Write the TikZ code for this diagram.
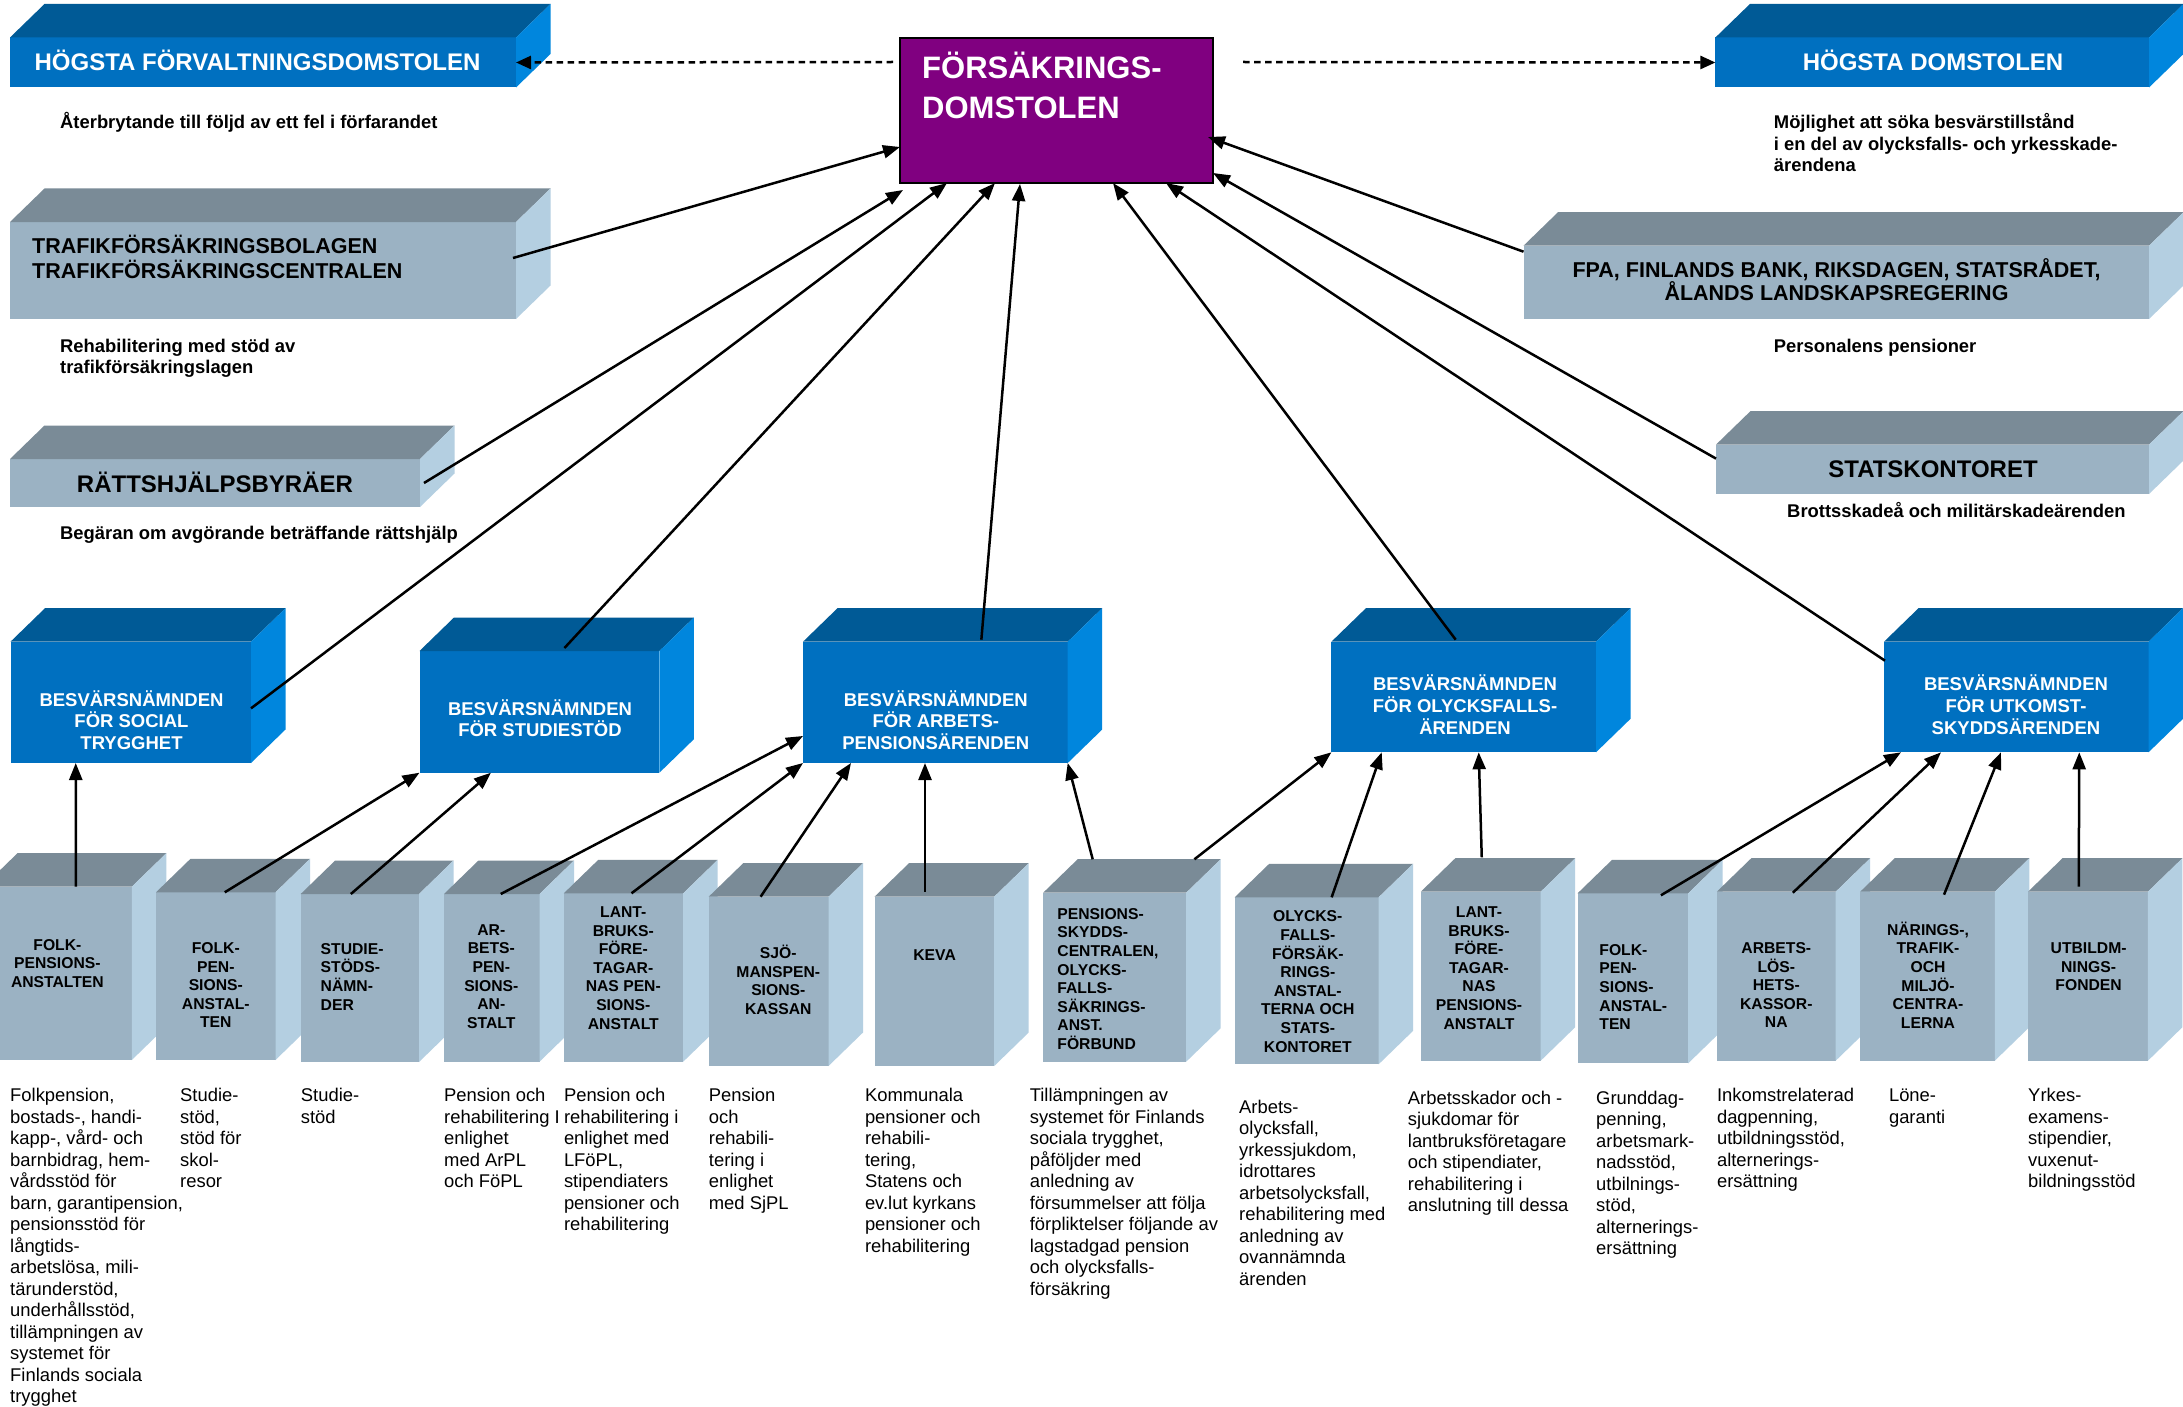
\documentclass[tikz,border=0pt]{standalone}
\usepackage{fontspec}
\setmainfont{Liberation Sans}
\usetikzlibrary{arrows.meta,calc}
\definecolor{bfront}{HTML}{0070C0}
\definecolor{btop}{HTML}{005A96}
\definecolor{bside}{HTML}{0086DD}
\definecolor{gfront}{HTML}{9BB2C3}
\definecolor{gtop}{HTML}{7A8B97}
\definecolor{gside}{HTML}{B4CFE1}
\definecolor{purp}{HTML}{800080}
\newcommand\fl{\rule{0pt}{1em}}
% #1 name, #2 x1, #3 y1, #4 x2, #5 y2, #6 palette
\newcommand\cub[6]{%
  \node[face,#6front,minimum width={(#4)-(#2)},minimum height={(#5)-(#3)}] (#1) at (#2,#3) {};
  \fill[#6top] (#1.north west) -- ++(34.5,-33.5) -- ($(#1.north east)+(34.5,-33.5)$) -- (#1.north east) -- cycle;
  \fill[#6side] (#1.north east) -- ++(34.5,-33.5) -- ($(#1.south east)+(34.5,-33.5)$) -- (#1.south east) -- cycle;
}
\begin{document}
\begin{tikzpicture}[x=1pt,y=-1pt,
  bluefront/.style={fill=bfront}, bluetop/.style={fill=btop}, blueside/.style={fill=bside},
  greyfront/.style={fill=gfront}, greytop/.style={fill=gtop}, greyside/.style={fill=gside},
  face/.style={inner sep=0pt, outer sep=0pt, anchor=north west},
  title/.style={inner sep=0pt, anchor=base, font=\fontsize{24}{28}\selectfont\bfseries},
  wtitle/.style={title, text=white},
  note/.style={inner sep=0pt, anchor=base west, font=\fontsize{18.4}{21.4}\selectfont\bfseries},
  notem/.style={inner sep=0pt, anchor=north west, align=left, font=\fontsize{18.4}{21.4}\selectfont\bfseries},
  midtxt/.style={inner sep=0pt, anchor=north, align=center, text=white, font=\fontsize{18.5}{21.6}\selectfont\bfseries},
  lowc/.style={inner sep=0pt, anchor=north, align=center, font=\fontsize{15.7}{18.6}\selectfont\bfseries},
  lowl/.style={lowc, anchor=north west, align=left},
  desc/.style={inner sep=0pt, anchor=north west, align=left, font=\fontsize{18.4}{21.5}\selectfont},
  conn/.style={draw=black, line width=2.5pt, -{Triangle[length=17pt,width=13pt]}},
  dashconn/.style={draw=black, line width=2.5pt, dash pattern=on 6.5pt off 4.5pt, -{Triangle[length=15pt,width=13pt]}},
]
\clip (0,0) rectangle (2183,1407);
\fill[white] (0,0) rectangle (2183,1407);

% ---------- top row ----------
\cub{hfd}{10}{37.5}{516}{87.5}{blue}
\cub{hd}{1715.4}{37.5}{2149}{87.5}{blue}
\cub{traf}{10}{222}{516}{319}{grey}
\cub{rat}{10}{459}{420}{507}{grey}
\cub{fpa}{1523.5}{245.7}{2149}{319}{grey}
\cub{stats}{1716}{444.6}{2149}{494}{grey}
\node[face,fill=purp,draw=black,line width=2pt,minimum width=313,minimum height=145] (court) at (900,38) {};

% ---------- middle row ----------
\cub{bsoc}{10.5}{641.7}{251}{763}{blue}
\cub{bstud}{419.5}{651}{659.4}{772.7}{blue}
\cub{barb}{803}{641.7}{1067.7}{763}{blue}
\cub{boly}{1331.4}{641.7}{1596}{752.3}{blue}
\cub{butk}{1884}{641.7}{2148.5}{752.3}{blue}

% ---------- bottom row ----------
\cub{b1}{-17}{886.7}{131.8}{1060}{grey}
\cub{b2}{156}{892.3}{275.5}{1060}{grey}
\cub{b3}{300.7}{894}{419}{1062}{grey}
\cub{b4}{444}{894}{539.5}{1061.7}{grey}
\cub{b5}{563.8}{893.3}{683.2}{1061.7}{grey}
\cub{b6}{708.7}{896.7}{828.5}{1066}{grey}
\cub{b7}{874.5}{896.7}{994.2}{1066}{grey}
\cub{b8}{1043.2}{892.7}{1186.2}{1061.7}{grey}
\cub{b9}{1234.7}{897.3}{1378.6}{1064.3}{grey}
\cub{b10}{1420.8}{891.7}{1540.7}{1060.7}{grey}
\cub{b11}{1577.6}{893.3}{1688.2}{1063.3}{grey}
\cub{b12}{1716.8}{891.7}{1835.7}{1060.7}{grey}
\cub{b13}{1860.2}{891.7}{1994.8}{1060.7}{grey}
\cub{b14}{2028}{891.7}{2147.9}{1060.7}{grey}

% ---------- connectors ----------
\coordinate (dl) at ($(court.north west)+(-7,24)$);
\coordinate (dr) at ($(court.north east)+(30,24)$);
\draw[dashconn] (dl) -- (hfd.east);
\draw[dashconn] (dr) -- (hd.west);

\draw[conn] ($(traf.north east)+(-3,36)$) -- ($(court.south west)+(0,-36)$);
\draw[conn] ($(rat.east)+(4,0)$) -- ($(court.south west)+(3,7)$);
\draw[conn] ($(bsoc.east)+(0,6)$) -- ($(court.south west)+(47,0)$);
\draw[conn] ($(bstud.north)+(25,-3)$) -- ($(court.south west)+(95,0)$);
\draw[conn] ($(barb.north)+(46,-2)$) -- ($(court.south west)+(120,1)$);
\draw[conn] ($(boly.north)+(-8,-2)$) -- ($(court.south west)+(213,0)$);
\draw[conn] ($(butk.north west)+(1,19)$) -- ($(court.south west)+(266,0)$);
\draw[conn] ($(stats.north west)+(0,14)$) -- ($(court.south east)+(0,-10)$);
\draw[conn] ($(fpa.north west)+(0,6)$) -- ($(court.south east)+(-5,-46)$);

\draw[conn] ($(b1.north)+(18.4,0)$) -- ($(bsoc.south)+(-55,0)$);
\draw[conn] ($(b2.north)+(9,0)$) -- (bstud.south west);
\draw[conn] ($(b3.north)+(-9,0)$) -- ($(bstud.south)+(-48.5,0)$);
\draw[conn] ($(b4.north)+(9,0)$) -- ($(barb.south west)+(0,-27)$);
\draw[conn] ($(b5.north)+(8,0)$) -- (barb.south west);
\draw[conn] ($(b6.north)+(-8,0)$) -- ($(barb.south west)+(48,0)$);
\draw[conn] ($(b7.north)+(-9.35,-5)$) -- ($(barb.south)+(-10.35,0)$);
\draw[conn] ($(b8.north)+(-22,-33.4)$) -- (barb.south east);
\draw[conn] ($(b8.north)+(79.7,-33.4)$) -- (boly.south west);
\draw[conn] ($(b9.north)+(25,0)$) -- ($(boly.south)+(-82,0)$);
\draw[conn] ($(b10.north)+(1,-34.4)$) -- ($(boly.south)+(15,0)$);
\draw[conn] ($(b11.north)+(28,2)$) -- ($(butk.south west)+(17,0)$);
\draw[conn] ($(b12.north)+(16.6,1)$) -- ($(butk.south west)+(57,0)$);
\draw[conn] ($(b13.north)+(16.5,3)$) -- ($(butk.south west)+(117,0)$);
\draw[conn] ($(b14.north)+(-9.2,-5)$) -- ($(butk.south)+(63,0)$);

% ---------- texts top ----------
\node[wtitle] (hfdt) at (257.5,70.7) {HÖGSTA FÖRVALTNINGSDOMSTOLEN};
\node[wtitle] (hdt) at (1933,70.7) {HÖGSTA DOMSTOLEN};
\node[inner sep=0pt, anchor=north west, align=left, text=white, font=\fontsize{31}{40}\selectfont\bfseries] (courtt) at (922,47) {\fl FÖRSÄKRINGS-\\DOMSTOLEN};
\node[note] (n1) at (60,128.6) {Återbrytande till följd av ett fel i förfarandet};
\node[inner sep=0pt, anchor=north west, align=left, font=\fontsize{21.5}{25}\selectfont\bfseries] (traft) at (32,231.5) {\fl TRAFIKFÖRSÄKRINGSBOLAGEN\\TRAFIKFÖRSÄKRINGSCENTRALEN};
\node[notem] (n2) at (60,333.6) {\fl Rehabilitering med stöd av\\trafikförsäkringslagen};
\node[title] (ratt) at (215,492) {RÄTTSHJÄLPSBYRÄER};
\node[note] (n3) at (60,539) {Begäran om avgörande beträffande rättshjälp};
\node[notem] (n4) at (1773.7,110.2) {\fl Möjlighet att söka besvärstillstånd\\i en del av olycksfalls- och yrkesskade-\\ärendena};
\node[inner sep=0pt, anchor=north, align=center, font=\fontsize{21.5}{23.2}\selectfont\bfseries] (fpat) at (1836.5,255.3) {\fl FPA, FINLANDS BANK, RIKSDAGEN, STATSRÅDET,\\ÅLANDS LANDSKAPSREGERING};
\node[note] (n5) at (1773.7,352) {Personalens pensioner};
\node[title] (statst) at (1933,477) {STATSKONTORET};
\node[note] (n6) at (1787,517) {Brottsskadeå och militärskadeärenden};

% ---------- texts middle ----------
\node[midtxt] (bsoct) at (131.5,687.5) {\fl BESVÄRSNÄMNDEN\\FÖR SOCIAL\\TRYGGHET};
\node[midtxt] (bstudt) at (540,696.5) {\fl BESVÄRSNÄMNDEN\\FÖR STUDIESTÖD};
\node[midtxt] (barbt) at (935.8,687.5) {\fl BESVÄRSNÄMNDEN\\FÖR ARBETS-\\PENSIONSÄRENDEN};
\node[midtxt] (bolyt) at (1465,672.2) {\fl BESVÄRSNÄMNDEN\\FÖR OLYCKSFALLS-\\ÄRENDEN};
\node[midtxt] (butkt) at (2016,672.2) {\fl BESVÄRSNÄMNDEN\\FÖR UTKOMST-\\SKYDDSÄRENDEN};

% ---------- texts bottom boxes ----------
\node[lowc] (b1t) at (57.4,934.3) {\fl FOLK-\\PENSIONS-\\ANSTALTEN};
\node[lowc] (b2t) at (215.8,937.6) {\fl FOLK-\\PEN-\\SIONS-\\ANSTAL-\\TEN};
\node[lowl] (b3t) at (320.5,938.3) {\fl STUDIE-\\STÖDS-\\NÄMN-\\DER};
\node[lowc] (b4t) at (491.3,919.3) {\fl AR-\\BETS-\\PEN-\\SIONS-\\AN-\\STALT};
\node[lowc] (b5t) at (623.3,901.6) {\fl LANT-\\BRUKS-\\FÖRE-\\TAGAR-\\NAS PEN-\\SIONS-\\ANSTALT};
\node[lowc] (b6t) at (778.3,942.6) {\fl SJÖ-\\MANSPEN-\\SIONS-\\KASSAN};
\node[lowc, anchor=base] (b7t) at (934.6,960) {KEVA};
\node[lowl] (b8t) at (1057.2,903.3) {\fl PENSIONS-\\SKYDDS-\\CENTRALEN,\\OLYCKS-\\FALLS-\\SÄKRINGS-\\ANST.\\FÖRBUND};
\node[lowc] (b9t) at (1307.8,906) {\fl OLYCKS-\\FALLS-\\FÖRSÄK-\\RINGS-\\ANSTAL-\\TERNA OCH\\STATS-\\KONTORET};
\node[lowc] (b10t) at (1479,901.6) {\fl LANT-\\BRUKS-\\FÖRE-\\TAGAR-\\NAS\\PENSIONS-\\ANSTALT};
\node[lowl] (b11t) at (1599.2,939.3) {\fl FOLK-\\PEN-\\SIONS-\\ANSTAL-\\TEN};
\node[lowc] (b12t) at (1776.3,937.6) {\fl ARBETS-\\LÖS-\\HETS-\\KASSOR-\\NA};
\node[lowc] (b13t) at (1928,919.3) {\fl NÄRINGS-,\\TRAFIK-\\OCH\\MILJÖ-\\CENTRA-\\LERNA};
\node[lowc] (b14t) at (2088.6,937.6) {\fl UTBILDM-\\NINGS-\\FONDEN};

% ---------- descriptions ----------
\node[desc] (t1) at (10,1083.1) {\fl Folkpension,\\bostads-, handi-\\kapp-, vård- och\\barnbidrag, hem-\\vårdsstöd för\\barn, garantipension,\\pensionsstöd för\\långtids-\\arbetslösa, mili-\\tärunderstöd,\\underhållsstöd,\\tillämpningen av\\systemet för\\Finlands sociala\\trygghet};
\node[desc] (t2) at (180,1083.1) {\fl Studie-\\stöd,\\stöd för\\skol-\\resor};
\node[desc] (t3) at (300.7,1083.1) {\fl Studie-\\stöd};
\node[desc] (t4) at (444,1083.1) {\fl Pension och\\rehabilitering I\\enlighet\\med ArPL\\och FöPL};
\node[desc] (t5) at (563.8,1083.1) {\fl Pension och\\rehabilitering i\\enlighet med\\LFöPL,\\stipendiaters\\pensioner och\\rehabilitering};
\node[desc] (t6) at (708.7,1083.1) {\fl Pension\\och\\rehabili-\\tering i\\enlighet\\med SjPL};
\node[desc] (t7) at (864.8,1083.1) {\fl Kommunala\\pensioner och\\rehabili-\\tering,\\Statens och\\ev.lut kyrkans\\pensioner och\\rehabilitering};
\node[desc] (t8) at (1029.6,1083.1) {\fl Tillämpningen av\\systemet för Finlands\\sociala trygghet,\\påföljder med\\anledning av\\försummelser att följa\\förpliktelser följande av\\lagstadgad pension\\och olycksfalls-\\försäkring};
\node[desc] (t9) at (1239,1094.6) {\fl Arbets-\\olycksfall,\\yrkessjukdom,\\idrottares\\arbetsolycksfall,\\rehabilitering med\\anledning av\\ovannämnda\\ärenden};
\node[desc] (t10) at (1407.7,1085.6) {\fl Arbetsskador och -\\sjukdomar för\\lantbruksföretagare\\och stipendiater,\\rehabilitering i\\anslutning till dessa};
\node[desc] (t11) at (1596,1085.6) {\fl Grunddag-\\penning,\\arbetsmark-\\nadsstöd,\\utbilnings-\\stöd,\\alternerings-\\ersättning};
\node[desc] (t12) at (1716.8,1083.1) {\fl Inkomstrelaterad\\dagpenning,\\utbildningsstöd,\\alternerings-\\ersättning};
\node[desc] (t13) at (1888.8,1083.1) {\fl Löne-\\garanti};
\node[desc] (t14) at (2028,1083.1) {\fl Yrkes-\\examens-\\stipendier,\\vuxenut-\\bildningsstöd};
\end{tikzpicture}
\end{document}
